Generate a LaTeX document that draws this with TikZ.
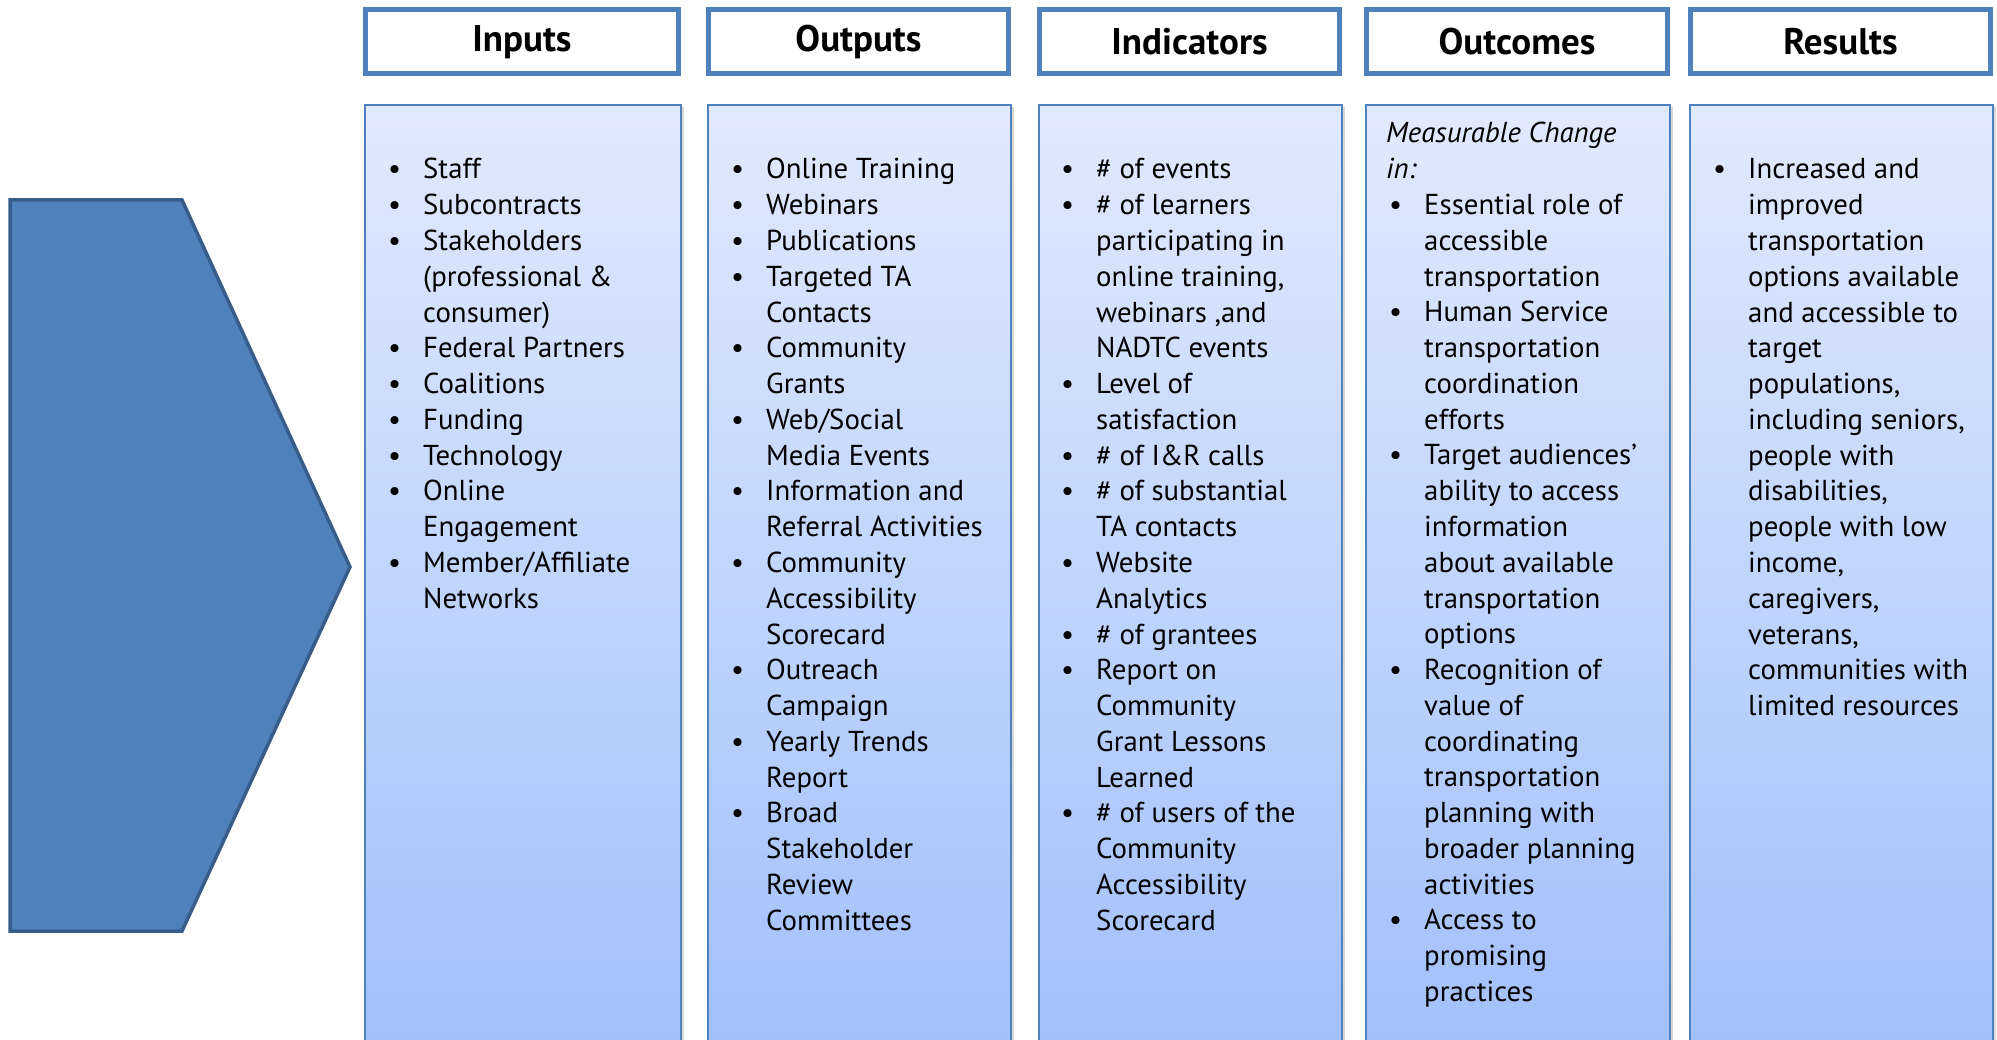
\documentclass[tikz,border=0pt]{standalone}
\usepackage{fontspec}
\setmainfont{PT Sans}
\usetikzlibrary{shadows}
\definecolor{hdrblue}{HTML}{4F81BD}
\definecolor{arrowedge}{HTML}{385D8A}
\definecolor{boxtop}{HTML}{E1EAFD}
\definecolor{boxbot}{HTML}{A2C0FB}
\newcommand{\bodyfont}{\fontsize{28.8}{35.77}\selectfont}
\newcommand{\bl}{\textbullet}
\tikzset{
  hdrbox/.style={draw=hdrblue, line width=5pt, fill=white, minimum height=64pt,
    inner sep=0pt, font=\fontsize{37}{40}\selectfont\bfseries},
  colbox/.style={draw=hdrblue, line width=2pt, top color=boxtop, bottom color=boxbot,
    minimum height=936pt, anchor=north west, inner sep=0pt,
    drop shadow={shadow xshift=3pt, shadow yshift=-2pt, opacity=0.25, fill=black!60}},
  coltext/.style={anchor=base west, inner sep=0pt, align=left, font=\bodyfont}
}
\begin{document}
\begin{tikzpicture}[x=1pt,y=-1pt]
\useasboundingbox (0,0) rectangle (1997,1040);
% chevron
\draw[fill=hdrblue, draw=arrowedge, line width=3.5pt, line join=miter]
  (10,200) -- (182,200) -- (350,567) -- (182,931) -- (10,931) -- cycle;
% headers
\node[hdrbox, minimum width=313pt] (hIn)  at (522,42)    {Inputs};
\node[hdrbox, minimum width=300pt] (hOut) at (858.5,42)  {Outputs};
\node[hdrbox, minimum width=300pt] (hInd) at (1189.5,42) {Indicators};
\node[hdrbox, minimum width=301pt] (hOc)  at (1517,42)   {Outcomes};
\node[hdrbox, minimum width=300pt] (hRes) at (1840.5,42) {Results};
% column boxes
\node[colbox, minimum width=316pt] (cIn)  at (364,104) {};
\node[colbox, minimum width=303pt] (cOut) at (707,104) {};
\node[colbox, minimum width=303pt] (cInd) at (1038,104) {};
\node[colbox, minimum width=304pt] (cOc)  at (1365,104) {};
\node[colbox, minimum width=303pt] (cRes) at (1689,104) {};
% texts
\node[coltext] (tIn) at (388,179) {\begin{tabular}[t]{@{}p{35pt}@{}l@{}}
\bl & Staff\\
\bl & Subcontracts\\
\bl & Stakeholders\\
    & (professional \&\\
    & consumer)\\
\bl & Federal Partners\\
\bl & Coalitions\\
\bl & Funding\\
\bl & Technology\\
\bl & Online\\
    & Engagement\\
\bl & Member/Affiliate\\
    & Networks
\end{tabular}};
\node[coltext] (tOut) at (731,179) {\begin{tabular}[t]{@{}p{35pt}@{}l@{}}
\bl & Online Training\\
\bl & Webinars\\
\bl & Publications\\
\bl & Targeted TA\\
    & Contacts\\
\bl & Community\\
    & Grants\\
\bl & Web/Social\\
    & Media Events\\
\bl & Information and\\
    & Referral Activities\\
\bl & Community\\
    & Accessibility\\
    & Scorecard\\
\bl & Outreach\\
    & Campaign\\
\bl & Yearly Trends\\
    & Report\\
\bl & Broad\\
    & Stakeholder\\
    & Review\\
    & Committees
\end{tabular}};
\node[coltext] (tInd) at (1061,179) {\begin{tabular}[t]{@{}p{35pt}@{}l@{}}
\bl & \# of events\\
\bl & \# of learners\\
    & participating in\\
    & online training,\\
    & webinars ,and\\
    & NADTC events\\
\bl & Level of\\
    & satisfaction\\
\bl & \# of I\&R calls\\
\bl & \# of substantial\\
    & TA contacts\\
\bl & Website\\
    & Analytics\\
\bl & \# of grantees\\
\bl & Report on\\
    & Community\\
    & Grant Lessons\\
    & Learned\\
\bl & \# of users of the\\
    & Community\\
    & Accessibility\\
    & Scorecard
\end{tabular}};
\node[coltext] (tOc) at (1389,143) {\begin{tabular}[t]{@{}p{35pt}@{}l@{}}
\multicolumn{2}{@{}l@{}}{\hspace*{-3pt}\itshape Measurable Change}\\
\multicolumn{2}{@{}l@{}}{\hspace*{-3pt}\itshape in:}\\
\bl & Essential role of\\
    & accessible\\
    & transportation\\
\bl & Human Service\\
    & transportation\\
    & coordination\\
    & efforts\\
\bl & Target audiences’\\
    & ability to access\\
    & information\\
    & about available\\
    & transportation\\
    & options\\
\bl & Recognition of\\
    & value of\\
    & coordinating\\
    & transportation\\
    & planning with\\
    & broader planning\\
    & activities\\
\bl & Access to\\
    & promising\\
    & practices
\end{tabular}};
\node[coltext] (tRes) at (1713,179) {\begin{tabular}[t]{@{}p{35pt}@{}l@{}}
\bl & Increased and\\
    & improved\\
    & transportation\\
    & options available\\
    & and accessible to\\
    & target\\
    & populations,\\
    & including seniors,\\
    & people with\\
    & disabilities,\\
    & people with low\\
    & income,\\
    & caregivers,\\
    & veterans,\\
    & communities with\\
    & limited resources
\end{tabular}};
\end{tikzpicture}
\end{document}
